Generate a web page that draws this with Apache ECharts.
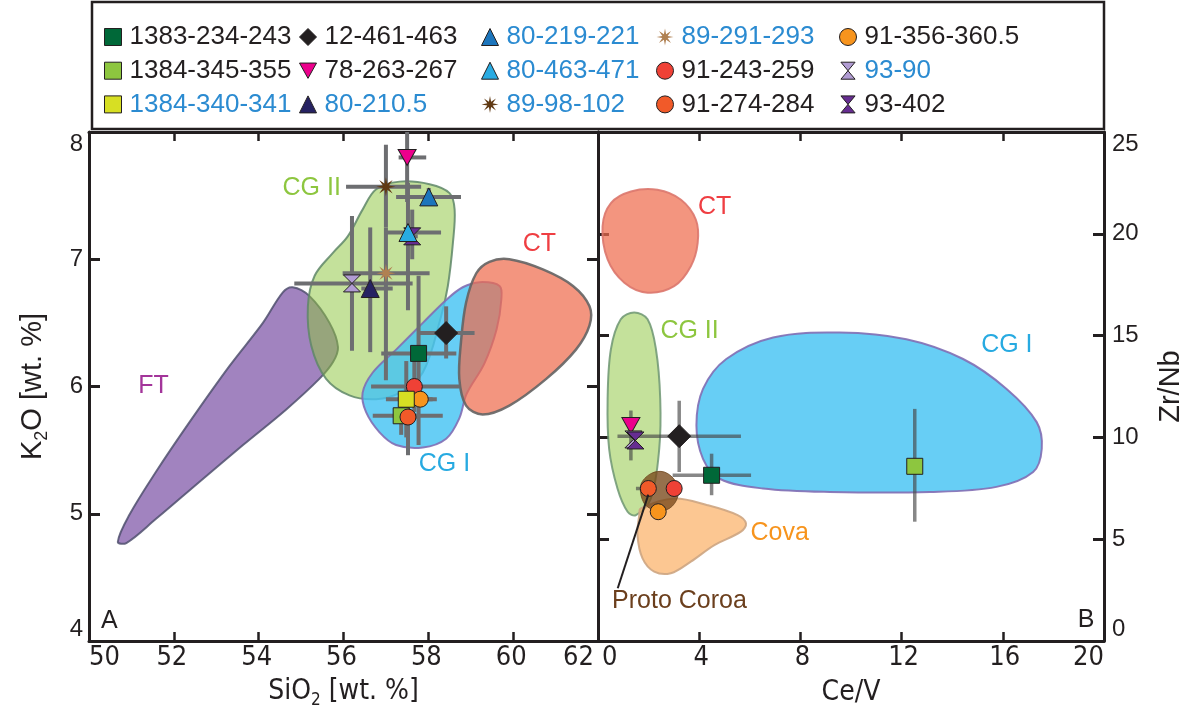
<!DOCTYPE html>
<html>
<head>
<meta charset="utf-8">
<script src="https://cdn.jsdelivr.net/npm/echarts@6/dist/echarts.min.js"></script>
<style>
html,body{margin:0;padding:0;background:#fff}
#main{width:1200px;height:724px}
</style>
</head>
<body>
<div id="main"></div>
<script>
// ---- panel A : SiO2 vs K2O (mean + range) ----
var aNames = ['93-90','80-210.5','89-98-102','89-291-293','78-263-267','80-219-221','93-402','80-463-471',
  '12-461-463','1383-234-243','91-243-259','91-356-360.5','1384-340-341','1384-345-355','91-274-284'];
var aSiO2 = [56.20, 56.63, 57.00, 57.00, 57.50, 58.01, 57.62, 57.52, 58.42, 57.77, 57.67, 57.81, 57.48, 57.36, 57.52];
var aSiO2Range = [[54.84,57.63],[56.42,57.16],[56.06,57.83],[55.98,58.03],[57.30,57.95],[57.24,58.77],[57.50,57.75],[56.97,58.30],
  [57.75,59.09],[56.89,58.66],[56.65,58.73],[57.30,58.20],[57.00,58.10],[56.69,58.34],[57.30,57.75]];
var aK2O = [6.81, 6.77, 7.57, 6.89, 7.80, 7.49, 7.18, 7.21, 6.42, 6.26, 6.00, 5.90, 5.90, 5.77, 5.76];
var aK2ORange = [[6.28,7.34],[6.27,7.25],[7.25,7.90],[6.05,7.25],[7.45,8.00],[7.42,7.56],[7.00,7.39],[6.60,7.60],
  [6.22,6.63],[5.54,6.87],[5.80,6.20],[5.85,5.95],[5.60,6.20],[5.62,5.92],[5.46,5.90]];

// ---- panel B : Ce/V vs Zr/Nb ----
var bNames = ['78-263-267','93-90','93-402','12-461-463','1383-234-243','91-274-284','91-243-259','91-356-360.5','1384-345-355'];
var bCeV = [1.30, 1.40, 1.48, 3.21, 4.49, 1.99, 3.01, 2.38, 12.52];
var bCeVRange = [[1.30,1.30],[1.40,1.40],[1.48,1.48],[0.77,5.65],[2.95,6.05],[1.50,1.99],[3.01,3.01],[2.38,2.38],[12.52,12.52]];
var bZrNb = [10.58, 9.90, 9.85, 10.06, 8.14, 7.49, 7.49, 6.35, 8.58];
var bZrNbRange = [[8.87,11.32],[9.90,9.90],[9.85,9.85],[8.30,11.80],[7.16,9.20],[7.49,7.49],[7.49,7.49],[6.35,6.35],[5.86,11.40]];

// ---- compositional fields (outline vertices in data units) ----
var fieldFT = [[50.68,4.78],[50.95,4.99],[51.58,5.33],[52.37,5.72],[53.31,6.16],[54.10,6.50],[54.57,6.74],[54.80,6.78],
  [55.20,6.71],[55.67,6.50],[55.87,6.31],[55.75,6.19],[55.43,6.06],[54.65,5.82],[53.63,5.54],[52.60,5.25],[51.58,4.96],[50.88,4.77]];
var fieldCG2A = [[57.32,7.61],[58.03,7.59],[58.50,7.52],[58.62,7.39],[58.58,7.13],[58.46,6.79],[58.30,6.55],[57.87,6.11],
  [57.32,5.95],[56.77,5.90],[56.14,5.93],[55.59,6.06],[55.24,6.32],[55.16,6.63],[55.32,6.87],[55.75,7.05],[56.10,7.18],[56.45,7.39],[56.77,7.55]];
var fieldCG1A = [[59.21,6.82],[59.68,6.79],[59.72,6.68],[59.61,6.45],[59.32,6.18],[58.90,5.94],[58.73,5.75],[58.42,5.59],
  [57.87,5.52],[57.24,5.54],[56.85,5.64],[56.53,5.80],[56.45,5.95],[56.69,6.11],[57.24,6.29],[57.87,6.50],[58.42,6.68],[58.81,6.78]];
var fieldCTA = [[59.13,6.89],[59.44,6.98],[59.91,7.00],[60.70,6.92],[61.41,6.79],[61.80,6.63],[61.80,6.48],[61.48,6.29],
  [60.78,6.06],[59.91,5.85],[59.28,5.78],[58.89,5.85],[58.73,6.06],[58.77,6.35],[58.89,6.66]];
var fieldCTB = [[0.18,20.37],[0.51,21.51],[1.30,22.08],[2.35,22.16],[3.28,21.67],[3.87,20.69],[3.94,19.55],[3.67,18.41],
  [3.01,17.43],[1.96,17.11],[1.04,17.60],[0.38,18.74]];
var fieldCG2B = [[1.43,16.13],[1.96,15.80],[2.29,14.33],[2.46,11.89],[2.42,9.44],[2.09,7.00],[1.50,6.18],[1.17,6.35],
  [0.77,7.49],[0.44,9.44],[0.38,11.89],[0.51,14.33],[0.90,15.80]];
var fieldCG1B = [[3.89,10.58],[4.15,12.38],[5.07,13.85],[6.92,14.91],[9.55,15.15],[12.19,14.82],[14.43,13.85],[16.15,12.38],
  [17.34,10.75],[17.54,9.44],[17.20,8.30],[15.75,7.57],[13.12,7.32],[9.16,7.32],[6.52,7.49],[4.81,7.97],[4.15,8.95]];
var fieldCova = [[1.69,6.51],[3.01,7.00],[4.33,6.67],[5.52,6.18],[5.85,5.77],[5.65,5.37],[4.60,4.71],[3.67,3.90],
  [2.88,3.33],[2.22,3.41],[1.76,4.06],[1.56,5.20],[1.63,6.18]];
var fieldProto = [[1.69,7.65],[2.09,8.22],[2.62,8.30],[3.08,7.81],[3.15,7.08],[2.82,6.51],[2.29,6.42],[1.83,6.75]];
var protoLeader = [[1.99,7.19],[0.78,2.59]];

// field labels [text, x, y]
var labelsA = [['CG II',55.25,7.56],['CT',60.62,7.12],['FT',51.52,6.00],['CG I',58.38,5.39],['A',50.48,4.16]];
var labelsB = [['CT',4.61,21.33],['CG II',3.62,15.22],['CG I',16.16,14.53],['Cova',7.18,5.28],['Proto Coroa',3.22,1.96],['B',19.29,1.03]];

// legend columns
var legendCols = [
  ['1383-234-243','1384-345-355','1384-340-341'],
  ['12-461-463','78-263-267','80-210.5'],
  ['80-219-221','80-463-471','89-98-102'],
  ['89-291-293','91-243-259','91-274-284'],
  ['91-356-360.5','93-90','93-402']
];

function starPath(n, r1, r2) {
  var s = 'path://';
  for (var i = 0; i < 2 * n; i++) {
    var a = i * Math.PI / n - Math.PI / 2;
    var r = i % 2 ? r2 : r1;
    s += (i ? 'L' : 'M') + (10 + r * Math.cos(a)).toFixed(2) + ',' + (10 + r * Math.sin(a)).toFixed(2);
  }
  return s + 'Z';
}
var SQ = 'rect', DI = 'diamond', TR = 'triangle', TD = 'path://M0,0L10,0L5,9Z',
    AS = starPath(8, 10, 3.4), CI = 'circle', HG = 'path://M0,0L10,0L0,12L10,12Z';

var style = {
  '1383-234-243': {sym: SQ, c: '#006838', size: 16, txt: '#231f20'},
  '12-461-463':   {sym: DI, c: '#231f20', size: 23, txt: '#231f20'},
  '80-219-221':   {sym: TR, c: '#1c75bc', size: 18, txt: '#2b8bd1'},
  '89-291-293':   {sym: AS, c: '#b08152', size: 19, txt: '#2b8bd1'},
  '91-356-360.5': {sym: CI, c: '#f7941d', size: 16, txt: '#231f20'},
  '1384-345-355': {sym: SQ, c: '#8dc63f', size: 16, txt: '#231f20'},
  '78-263-267':   {sym: TD, c: '#ec008c', size: 18, txt: '#231f20'},
  '80-463-471':   {sym: TR, c: '#29abe2', size: 18, txt: '#2b8bd1'},
  '91-243-259':   {sym: CI, c: '#ef4136', size: 16, txt: '#231f20'},
  '93-90':        {sym: HG, c: '#b19cd3', size: 17, txt: '#2b8bd1'},
  '1384-340-341': {sym: SQ, c: '#d7df23', size: 16, txt: '#2b8bd1'},
  '80-210.5':     {sym: TR, c: '#262262', size: 18, txt: '#2b8bd1'},
  '89-98-102':    {sym: AS, c: '#603913', size: 19, txt: '#2b8bd1'},
  '91-274-284':   {sym: CI, c: '#f15a29', size: 16, txt: '#231f20'},
  '93-402':       {sym: HG, c: '#662d91', size: 17, txt: '#231f20'}
};
var INK = '#231f20';
var FONT = "'Liberation Sans', Arial, sans-serif";
var NARROW = "'Liberation Sans Narrow', 'DejaVu Sans Condensed', sans-serif";

var myChart = echarts.init(document.getElementById('main'));

function fieldSeries(pts, axis, fill, stroke, lw, z) {
  return {
    type: 'custom', xAxisIndex: axis, yAxisIndex: axis, z: z, silent: true, clip: true,
    data: [pts[0]],
    renderItem: function (params, api) {
      return {
        type: 'polygon',
        shape: {points: pts.map(function (p) { return api.coord(p); }), smooth: 0.35},
        style: {fill: fill, stroke: stroke, lineWidth: lw}
      };
    }
  };
}

function errSeries(xs, xr, ys, yr, axis, color, lw) {
  var rows = xs.map(function (x, i) { return [x, ys[i], xr[i][0], xr[i][1], yr[i][0], yr[i][1]]; });
  return {
    type: 'custom', xAxisIndex: axis, yAxisIndex: axis, z: 5, silent: true, clip: true,
    encode: {x: [0, 2, 3], y: [1, 4, 5]},
    data: rows,
    renderItem: function (params, api) {
      var y = api.value(1), x = api.value(0);
      var h1 = api.coord([api.value(2), y]), h2 = api.coord([api.value(3), y]);
      var v1 = api.coord([x, api.value(4)]), v2 = api.coord([x, api.value(5)]);
      var st = {stroke: color, lineWidth: lw};
      return {type: 'group', children: [
        {type: 'line', shape: {x1: h1[0], y1: h1[1], x2: h2[0], y2: h2[1]}, style: st},
        {type: 'line', shape: {x1: v1[0], y1: v1[1], x2: v2[0], y2: v2[1]}, style: st}
      ]};
    }
  };
}

var labelColor = {'CG II': '#8dc63f', 'CT': '#ef3e42', 'FT': '#a3359a', 'CG I': '#27aae1',
  'Cova': '#f7941d', 'Proto Coroa': '#6b3f1d', 'A': INK, 'B': INK};

function labelSeries(list, axis) {
  return {
    type: 'custom', xAxisIndex: axis, yAxisIndex: axis, z: 20, silent: true,
    data: list.map(function (l) { return [l[1], l[2]]; }),
    renderItem: function (params, api) {
      var p = api.coord([api.value(0), api.value(1)]);
      var t = list[params.dataIndex][0];
      return {type: 'text', x: p[0], y: p[1], style: {
        text: t, fill: labelColor[t], font: '25px ' + FONT, align: 'center', verticalAlign: 'middle'}};
    }
  };
}

function pointSeries(names, xs, ys, axis) {
  return names.map(function (n, i) {
    var s = style[n];
    return {
      name: n, type: 'scatter', xAxisIndex: axis, yAxisIndex: axis, z: 10 + i * 0.01,
      symbol: s.sym, symbolSize: s.sym === TD ? [18, 16] : s.size,
      itemStyle: {color: s.c, borderColor: INK, borderWidth: (s.sym === AS) ? 0 : 1, opacity: 1},
      data: [[xs[i], ys[i]]]
    };
  });
}

var series = [
  fieldSeries(fieldFT, 0, 'rgba(128,88,168,0.74)', 'rgba(80,80,110,0.85)', 2, 1),
  fieldSeries(fieldCG2A, 0, 'rgba(141,198,63,0.52)', 'rgba(95,135,105,0.85)', 2, 2),
  fieldSeries(fieldCG1A, 0, 'rgba(70,195,243,0.82)', 'rgba(130,110,180,0.9)', 2, 3),
  fieldSeries(fieldCTA, 0, 'rgba(238,108,78,0.72)', 'rgba(100,100,100,0.9)', 2.5, 4),
  errSeries(aSiO2, aSiO2Range, aK2O, aK2ORange, 0, '#6d6e71', 4),
  fieldSeries(fieldCTB, 1, 'rgba(238,108,78,0.72)', 'rgba(220,120,110,0.9)', 2, 1),
  fieldSeries(fieldCG2B, 1, 'rgba(141,198,63,0.52)', 'rgba(110,150,115,0.85)', 2, 2),
  fieldSeries(fieldCG1B, 1, 'rgba(70,195,243,0.82)', 'rgba(130,110,180,0.9)', 2, 3),
  fieldSeries(fieldCova, 1, 'rgba(250,172,95,0.68)', 'rgba(205,165,130,0.9)', 2, 3),
  fieldSeries(fieldProto, 1, 'rgba(120,72,25,0.78)', 'rgba(110,70,30,0.8)', 1, 4),
  errSeries(bCeV, bCeVRange, bZrNb, bZrNbRange, 1, 'rgba(70,70,70,0.65)', 3.5),
  {type: 'line', xAxisIndex: 1, yAxisIndex: 1, z: 12, silent: true, symbol: 'none',
   lineStyle: {color: INK, width: 2}, data: protoLeader},
  labelSeries(labelsA, 0),
  labelSeries(labelsB, 1)
].concat(pointSeries(aNames, aSiO2, aK2O, 0), pointSeries(bNames, bCeV, bZrNb, 1));

var colLeft = [104, 299, 481, 656, 839];
var legends = legendCols.map(function (col, k) {
  return {
    orient: 'vertical', left: colLeft[k], top: 23.5, padding: 0,
    itemWidth: 17, itemHeight: 17, itemGap: 6.7, selectedMode: false,
    textStyle: {fontSize: 26, fontFamily: FONT, lineHeight: 27, padding: [0, 0, 0, 3]},
    data: col.map(function (n) {
      return {name: n, icon: style[n].sym, textStyle: {color: style[n].txt},
        itemStyle: {color: style[n].c, borderColor: INK, borderWidth: style[n].sym === AS ? 0 : 1}};
    })
  };
});

function axisLine(w) { return {show: true, onZero: false, lineStyle: {color: INK, width: w}}; }

var option = {
  backgroundColor: '#fff',
  animation: false,
  legend: legends,
  graphic: [{type: 'rect', shape: {x: 92, y: 2, width: 1012, height: 127},
    style: {fill: 'none', stroke: INK, lineWidth: 2.5}, z: 100}],
  grid: [
    {left: 89, top: 132, width: 509, height: 509},
    {left: 598, top: 132, width: 506, height: 509}
  ],
  xAxis: [
    {gridIndex: 0, type: 'value', min: 50, max: 62, interval: 2, position: 'bottom',
     name: '{t|SiO}{s|2}{t| [wt. %]}', nameLocation: 'middle', nameGap: 34,
     nameTextStyle: {rich: {t: {fontSize: 28, fontFamily: NARROW, color: INK, lineHeight: 34},
       s: {fontSize: 17, fontFamily: NARROW, color: INK, lineHeight: 17, verticalAlign: 'bottom'}}},
     axisLine: axisLine(3), axisTick: {inside: true, length: 9, lineStyle: {color: INK, width: 2.5}},
     axisLabel: {fontSize: 27, fontFamily: NARROW, color: INK, margin: 3, padding: [0, 4, 0, 0],
       alignMinLabel: 'left', alignMaxLabel: 'right'},
     splitLine: {show: false}},
    {gridIndex: 0, type: 'value', min: 50, max: 62, interval: 2, position: 'top',
     axisLine: axisLine(3), axisTick: {inside: true, length: 9, lineStyle: {color: INK, width: 2.5}},
     axisLabel: {show: false}, splitLine: {show: false}},
    {gridIndex: 1, type: 'value', min: 0, max: 20, interval: 4, position: 'bottom',
     name: 'Ce/V', nameLocation: 'middle', nameGap: 34,
     nameTextStyle: {fontSize: 28, fontFamily: NARROW, color: INK, lineHeight: 34},
     axisLine: axisLine(3), axisTick: {inside: true, length: 9, lineStyle: {color: INK, width: 2.5}},
     axisLabel: {fontSize: 27, fontFamily: NARROW, color: INK, margin: 3, padding: [0, 0, 0, 4],
       alignMinLabel: 'left', alignMaxLabel: 'right'},
     splitLine: {show: false}},
    {gridIndex: 1, type: 'value', min: 0, max: 20, interval: 4, position: 'top',
     axisLine: axisLine(3), axisTick: {inside: true, length: 9, lineStyle: {color: INK, width: 2.5}},
     axisLabel: {show: false}, splitLine: {show: false}}
  ],
  yAxis: [
    {gridIndex: 0, type: 'value', min: 4, max: 8, interval: 1, position: 'left',
     name: '{t|K}{s|2}{t|O [wt. %]}', nameLocation: 'middle', nameGap: 38, nameRotate: 90,
     nameTextStyle: {rich: {t: {fontSize: 29, fontFamily: FONT, color: INK, lineHeight: 36},
       s: {fontSize: 18, fontFamily: FONT, color: INK, lineHeight: 18, verticalAlign: 'bottom'}}},
     axisLine: axisLine(3), axisTick: {inside: true, length: 11, lineStyle: {color: INK, width: 3}},
     axisLabel: {fontSize: 24, fontFamily: FONT, color: INK, margin: 6,
       verticalAlignMinLabel: 'bottom', verticalAlignMaxLabel: 'top'},
     splitLine: {show: false}},
    {gridIndex: 0, type: 'value', min: 4, max: 8, interval: 1, position: 'right',
     axisLine: axisLine(3), axisTick: {inside: true, length: 11, lineStyle: {color: INK, width: 3}},
     axisLabel: {show: false}, splitLine: {show: false}},
    {gridIndex: 1, type: 'value', min: 0, max: 25, interval: 5, position: 'right',
     name: 'Zr/Nb', nameLocation: 'middle', nameGap: 52, nameRotate: 90,
     nameTextStyle: {fontSize: 29, fontFamily: FONT, color: INK},
     axisLine: axisLine(3), axisTick: {inside: true, length: 11, lineStyle: {color: INK, width: 3}},
     axisLabel: {fontSize: 24, fontFamily: FONT, color: INK, margin: 8,
       verticalAlignMinLabel: 'bottom', verticalAlignMaxLabel: 'top'},
     splitLine: {show: false}},
    {gridIndex: 1, type: 'value', min: 0, max: 25, interval: 5, position: 'left',
     axisLine: axisLine(3), axisTick: {inside: true, length: 11, lineStyle: {color: INK, width: 3}},
     axisLabel: {show: false}, splitLine: {show: false}}
  ],
  series: series
};

// panel B series sit on the third x/y axis pair
series.forEach(function (s) {
  if (s.xAxisIndex === 1) { s.xAxisIndex = 2; s.yAxisIndex = 2; }
});

myChart.setOption(option, true);
window.onresize = myChart.resize;
</script>
</body>
</html>
